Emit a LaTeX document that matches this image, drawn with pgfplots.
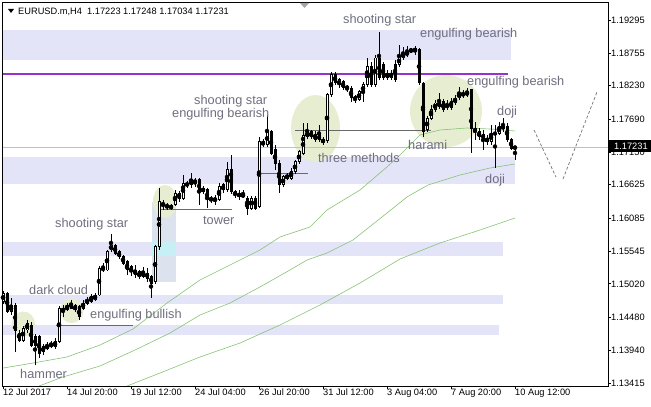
\documentclass[border=0pt]{standalone}
\usepackage{fontspec}
\setmainfont{Liberation Sans}
\usepackage{pgfplots}
\pgfplotsset{compat=1.18}
\usepackage{pgfplotstable}

\definecolor{band}{RGB}{227,228,248}
\definecolor{vband}{RGB}{220,227,239}
\definecolor{vcyan}{RGB}{198,240,245}
\definecolor{blob}{RGB}{231,237,209}
\definecolor{lbl}{RGB}{110,110,126}
\definecolor{ma}{RGB}{135,195,115}
\definecolor{orchid}{RGB}{153,50,204}
\definecolor{sline}{RGB}{105,105,105}
\definecolor{pline}{RGB}{192,192,192}

% H4 candles, bar index from 12 Jul 04:00
\pgfplotstableread{
i O H L C
0 1.14727 1.14905 1.14694 1.14872
2 1.14565 1.14791 1.14516 1.14678
5 1.14111 1.14338 1.14079 1.14305
6 1.14273 1.14435 1.14224 1.14386
11 1.13981 1.14079 1.13949 1.14014
12 1.13998 1.14095 1.13981 1.14062
13 1.13998 1.14143 1.13965 1.14079
14 1.14079 1.14662 1.14062 1.14629
15 1.14565 1.14678 1.14484 1.14629
16 1.14597 1.14710 1.14581 1.14662
20 1.14629 1.14759 1.14597 1.14710
21 1.14710 1.14808 1.14678 1.14759
22 1.14727 1.14856 1.14710 1.14808
23 1.14759 1.14872 1.14743 1.14840
24 1.14840 1.15310 1.14824 1.15277
26 1.15245 1.15569 1.15229 1.15537
27 1.15569 1.15828 1.15537 1.15650
34 1.15132 1.15245 1.15099 1.15213
35 1.15132 1.15294 1.15115 1.15213
38 1.15051 1.15650 1.15018 1.15618
39 1.15618 1.16573 1.15569 1.16347
43 1.16298 1.16541 1.16282 1.16492
45 1.16411 1.16784 1.16379 1.16654
47 1.16622 1.16816 1.16573 1.16703
53 1.16379 1.16460 1.16298 1.16395
54 1.16379 1.16654 1.16363 1.16590
56 1.16541 1.16995 1.16509 1.16865
60 1.16444 1.16541 1.16411 1.16460
62 1.16249 1.16444 1.16217 1.16411
64 1.16266 1.17400 1.16249 1.17319
66 1.17270 1.17756 1.17238 1.17481
70 1.16622 1.16784 1.16590 1.16752
71 1.16735 1.16816 1.16703 1.16768
72 1.16735 1.16897 1.16703 1.16833
73 1.16833 1.17027 1.16800 1.16995
74 1.16995 1.17189 1.16962 1.17157
75 1.17140 1.17626 1.17108 1.17416
76 1.17400 1.17626 1.17367 1.17481
81 1.17335 1.18112 1.17302 1.18080
82 1.18080 1.18453 1.18048 1.18404
84 1.18242 1.18355 1.18193 1.18323
89 1.17999 1.18161 1.17983 1.18129
90 1.18129 1.18291 1.17967 1.18242
91 1.18242 1.18679 1.18210 1.18534
93 1.18242 1.18728 1.18210 1.18679
97 1.18355 1.18485 1.18323 1.18436
99 1.18566 1.18890 1.18534 1.18696
100 1.18679 1.18858 1.18647 1.18760
101 1.18728 1.18874 1.18696 1.18777
102 1.18793 1.18841 1.18760 1.18809
103 1.18777 1.18874 1.18728 1.18841
106 1.17513 1.17740 1.17481 1.17707
107 1.17707 1.17918 1.17675 1.17837
108 1.17837 1.17999 1.17805 1.17950
109 1.17886 1.18112 1.17853 1.17967
111 1.17886 1.17999 1.17837 1.17918
113 1.17950 1.18080 1.17918 1.18031
114 1.18031 1.18210 1.17999 1.18112
116 1.18080 1.18193 1.18048 1.18129
121 1.17319 1.17432 1.17270 1.17383
122 1.17319 1.17594 1.17270 1.17464
124 1.17464 1.17643 1.17432 1.17562
128 1.17223 1.17248 1.17034 1.17231
}\bull

\pgfplotstableread{
i O H L C
1 1.14872 1.14889 1.14548 1.14565
3 1.14678 1.14710 1.13917 1.14273
4 1.14224 1.14273 1.14079 1.14111
7 1.14354 1.14403 1.13998 1.14030
8 1.14160 1.14208 1.13706 1.14014
9 1.14160 1.14192 1.13819 1.13900
10 1.13998 1.14046 1.13868 1.13917
17 1.14710 1.14759 1.14613 1.14629
18 1.14662 1.14694 1.14565 1.14597
19 1.14646 1.14678 1.14435 1.14484
25 1.15277 1.15358 1.15213 1.15245
28 1.15634 1.15666 1.15488 1.15520
29 1.15537 1.15569 1.15423 1.15456
30 1.15456 1.15488 1.15326 1.15358
31 1.15375 1.15407 1.15164 1.15245
32 1.15294 1.15326 1.15148 1.15213
33 1.15245 1.15326 1.15115 1.15164
36 1.15196 1.15277 1.15051 1.15115
37 1.15132 1.15164 1.14791 1.15034
40 1.16330 1.16379 1.16217 1.16298
41 1.16298 1.16330 1.16217 1.16266
42 1.16282 1.16314 1.16217 1.16249
44 1.16492 1.16525 1.16347 1.16411
46 1.16654 1.16687 1.16573 1.16606
48 1.16687 1.16735 1.16590 1.16671
49 1.16703 1.16735 1.16298 1.16509
50 1.16573 1.16606 1.16476 1.16509
51 1.16541 1.16573 1.16249 1.16379
52 1.16411 1.16444 1.16330 1.16379
55 1.16622 1.16654 1.16492 1.16541
57 1.16865 1.17108 1.16476 1.16509
58 1.16509 1.16541 1.16411 1.16460
59 1.16492 1.16541 1.16379 1.16428
61 1.16411 1.16444 1.16136 1.16249
63 1.16411 1.16444 1.16217 1.16249
65 1.17319 1.17367 1.17238 1.17270
67 1.17481 1.17513 1.17108 1.17140
68 1.17189 1.17270 1.16865 1.16978
69 1.16978 1.17027 1.16492 1.16622
77 1.17481 1.17513 1.17367 1.17400
78 1.17448 1.17497 1.17319 1.17351
79 1.17432 1.17594 1.17319 1.17351
80 1.17351 1.17400 1.17270 1.17319
83 1.18404 1.18453 1.18242 1.18274
85 1.18291 1.18323 1.18161 1.18193
86 1.18210 1.18242 1.18129 1.18193
87 1.18193 1.18226 1.17967 1.18031
88 1.18048 1.18080 1.17950 1.17999
92 1.18534 1.18615 1.18210 1.18242
94 1.18679 1.19101 1.18323 1.18355
95 1.18566 1.18615 1.18323 1.18355
96 1.18436 1.18485 1.18323 1.18355
98 1.18566 1.18647 1.18291 1.18323
104 1.18809 1.18841 1.18242 1.18274
105 1.18274 1.18291 1.17400 1.17481
110 1.17967 1.18015 1.17805 1.17837
112 1.17967 1.18031 1.17837 1.17869
115 1.18112 1.18161 1.18031 1.18064
117 1.18161 1.18177 1.17140 1.17545
118 1.17545 1.17643 1.17351 1.17481
119 1.17481 1.17545 1.17351 1.17400
120 1.17432 1.17513 1.17189 1.17383
123 1.17464 1.17594 1.16897 1.17448
125 1.17562 1.17707 1.17481 1.17545
126 1.17562 1.17626 1.17319 1.17351
127 1.17351 1.17383 1.17189 1.17221
}\bear

\newcommand\lab[3]{\node[anchor=base west, inner sep=0pt, text=lbl,
  font=\fontsize{12.8}{14}\selectfont] at (#1bp,#2bp) {#3};}

\begin{document}
\begin{tikzpicture}
\useasboundingbox (0,0) rectangle (651bp,407bp);
\begin{axis}[
  at={(2bp,21bp)}, anchor=south west,
  scale only axis, width=606bp, height=383bp,
  xmin=-0.25, xmax=151.25, ymin=1.13366, ymax=1.19570,
  axis on top,
  axis line style={black, line width=1bp},
  tick align=outside, major tick length=3bp,
  tick style={black, line width=0.8bp},
  xtick pos=left, ytick pos=right, yticklabel pos=right,
  xtick={0,16,32,48,64,80,96,112,128},
  xticklabels={12 Jul 2017, 14 Jul 20:00, 19 Jul 12:00, 24 Jul 04:00,
    26 Jul 20:00, 31 Jul 12:00, 3 Aug 04:00, 7 Aug 20:00, 10 Aug 12:00},
  ytick={1.13415,1.13940,1.14480,1.15020,1.15545,1.16085,1.16625,1.17150,1.17690,1.18230,1.18755,1.19295},
  yticklabels={1.13415,1.13940,1.14480,1.15020,1.15545,1.16085,1.16625,1.17150,1.17690,1.18230,1.18755,1.19295},
  x tick label style={anchor=north west, inner sep=0pt, font=\fontsize{9.3}{11}\selectfont},
  y tick label style={anchor=west, inner sep=0pt, font=\fontsize{9.3}{11}\selectfont},
]
% zones
\addplot[fill=band, draw=none] coordinates {(-1,1.19133) (127,1.19133) (127,1.18647) (-1,1.18647)} -- cycle;
\addplot[fill=band, draw=none] coordinates {(-1,1.17076) (128,1.17076) (128,1.16638) (-1,1.16638)} -- cycle;
\addplot[fill=band, draw=none] coordinates {(-1,1.15699) (125,1.15699) (125,1.15472) (-1,1.15472)} -- cycle;
\addplot[fill=band, draw=none] coordinates {(-1,1.14840) (125,1.14840) (125,1.14694) (-1,1.14694)} -- cycle;
\addplot[fill=band, draw=none] coordinates {(-1,1.14354) (124,1.14354) (124,1.14192) (-1,1.14192)} -- cycle;
\addplot[fill=vband, draw=none] coordinates {(37.25,1.16347) (43.25,1.16347) (43.25,1.15051) (37.25,1.15051)} -- cycle;
\addplot[fill=vcyan, draw=none] coordinates {(37.25,1.15699) (43.25,1.15699) (43.25,1.15472) (37.25,1.15472)} -- cycle;
% highlighted patterns
\fill[blob] (axis cs:5.08,1.14370) ellipse [x radius=11.7bp, y radius=12.5bp];
\fill[blob] (axis cs:17.17,1.14589) ellipse [x radius=11.7bp, y radius=12.5bp];
\fill[blob] (axis cs:40.5,1.16355) ellipse [x radius=12bp, y radius=16.5bp];
\fill[blob] (axis cs:78.125,1.17537) ellipse [x radius=24.5bp, y radius=33.5bp];
\fill[blob] (axis cs:110.75,1.17821) ellipse [x radius=36bp, y radius=36bp];
% levels
\addplot[pline, line width=0.8bp] coordinates {(-1,1.17231) (152,1.17231)};
\addplot[orchid, line width=2bp] coordinates {(-1,1.18420) (126.25,1.18420)};
\addplot[sline, line width=1bp] coordinates {(13.25,1.14338) (32.5,1.14338)};
\addplot[sline, line width=1bp] coordinates {(39.25,1.16217) (57.25,1.16217)};
\addplot[sline, line width=1bp] coordinates {(63.5,1.16816) (76.25,1.16816)};
\addplot[sline, line width=1bp] coordinates {(73,1.17497) (107,1.17497)};
% moving averages
\addplot[ma, line width=0.6bp] coordinates {(0,1.13657) (7.5,1.13738) (16,1.13836) (24.25,1.14030) (32.5,1.14289) (41,1.14710) (49.25,1.15083) (54.25,1.15245) (64.25,1.15569) (69.25,1.15780) (76.75,1.15942) (81,1.16217) (89.25,1.16541) (96,1.16914) (99.25,1.17108) (104.25,1.17432) (109.25,1.17513) (116,1.17545) (121.75,1.17529) (128,1.17497)};
\addplot[ma, line width=0.6bp] coordinates {(9,1.13366) (15,1.13512) (24.25,1.13690) (33,1.13949) (41.75,1.14224) (49.25,1.14516) (56.75,1.14710) (64.25,1.14970) (71.75,1.15245) (76,1.15407) (81,1.15520) (87.5,1.15731) (96,1.16168) (101,1.16428) (106.25,1.16622) (114.25,1.16784) (121.75,1.16897) (128,1.16962)};
\addplot[ma, line width=0.6bp] coordinates {(31,1.13366) (39.25,1.13576) (49.25,1.13836) (59.25,1.14062) (69.25,1.14354) (79.25,1.14678) (89.25,1.15034) (99.25,1.15423) (109.25,1.15682) (119.25,1.15893) (128,1.16087)};
% candles: wicks
\addplot[only marks, mark=none, error bars/.cd, y dir=both, y explicit, error mark=none,
  error bar style={black, line width=1bp}]
  table[x=i, y expr={0.5*(\thisrow{H}+\thisrow{L})}, y error expr={0.5*(\thisrow{H}-\thisrow{L})}] {\bull};
\addplot[only marks, mark=none, error bars/.cd, y dir=both, y explicit, error mark=none,
  error bar style={black, line width=1bp}]
  table[x=i, y expr={0.5*(\thisrow{H}+\thisrow{L})}, y error expr={0.5*(\thisrow{H}-\thisrow{L})}] {\bear};
% bodies
\addplot[only marks, mark=none, error bars/.cd, y dir=both, y explicit, error mark=none,
  error bar style={black, line width=3bp}]
  table[x=i, y expr={0.5*(\thisrow{O}+\thisrow{C})}, y error expr={0.5*abs(\thisrow{C}-\thisrow{O})+0.00008}] {\bear};
\addplot[only marks, mark=none, error bars/.cd, y dir=both, y explicit, error mark=none,
  error bar style={black, line width=3bp}]
  table[x=i, y expr={0.5*(\thisrow{O}+\thisrow{C})}, y error expr={0.5*abs(\thisrow{C}-\thisrow{O})+0.00008}] {\bull};
\addplot[only marks, mark=none, error bars/.cd, y dir=both, y explicit, error mark=none,
  error bar style={white, line width=1bp}]
  table[x=i, y expr={0.5*(\thisrow{O}+\thisrow{C})}, y error expr={max(0.5*abs(\thisrow{C}-\thisrow{O})-0.00008,0)}] {\bull};
\end{axis}

% pattern labels
\lab{343}{383}{shooting star}
\lab{420}{369.5}{engulfing bearish}
\lab{194}{302.5}{shooting star}
\lab{172}{289}{engulfing bearish}
\lab{467}{321.5}{engulfing bearish}
\lab{497}{291.5}{doji}
\lab{318}{244}{three methods}
\lab{408}{257}{harami}
\lab{485}{223}{doji}
\lab{203}{182}{tower}
\lab{55}{179.5}{shooting star}
\lab{29}{112}{dark cloud}
\lab{90}{88}{engulfing bullish}
\lab{20}{29}{hammer}

% projected path
\draw[gray, line width=0.8bp, dash pattern=on 3bp off 2bp] (534bp,277bp) -- (556bp,230bp);
\draw[gray, line width=0.8bp, dash pattern=on 3bp off 2bp] (563bp,228bp) -- (597bp,315bp);

% header and markers
\fill[black] (8bp,398bp) -- (14bp,398bp) -- (11bp,394bp) -- cycle;
\node[anchor=base west, inner sep=0pt, font=\fontsize{9.3}{11}\selectfont] at (18bp,392.5bp)
  {EURUSD.m,H4\ \ 1.17223 1.17248 1.17034 1.17231};
\fill[gray!70] (300bp,404bp) -- (309bp,404bp) -- (304.5bp,399bp) -- cycle;
\fill[black] (609bp,255bp) rectangle (651bp,267bp);
\node[anchor=west, inner sep=0pt, text=white, font=\fontsize{9.3}{11}\selectfont] at (614bp,260.5bp) {1.17231};
\end{tikzpicture}
\end{document}
